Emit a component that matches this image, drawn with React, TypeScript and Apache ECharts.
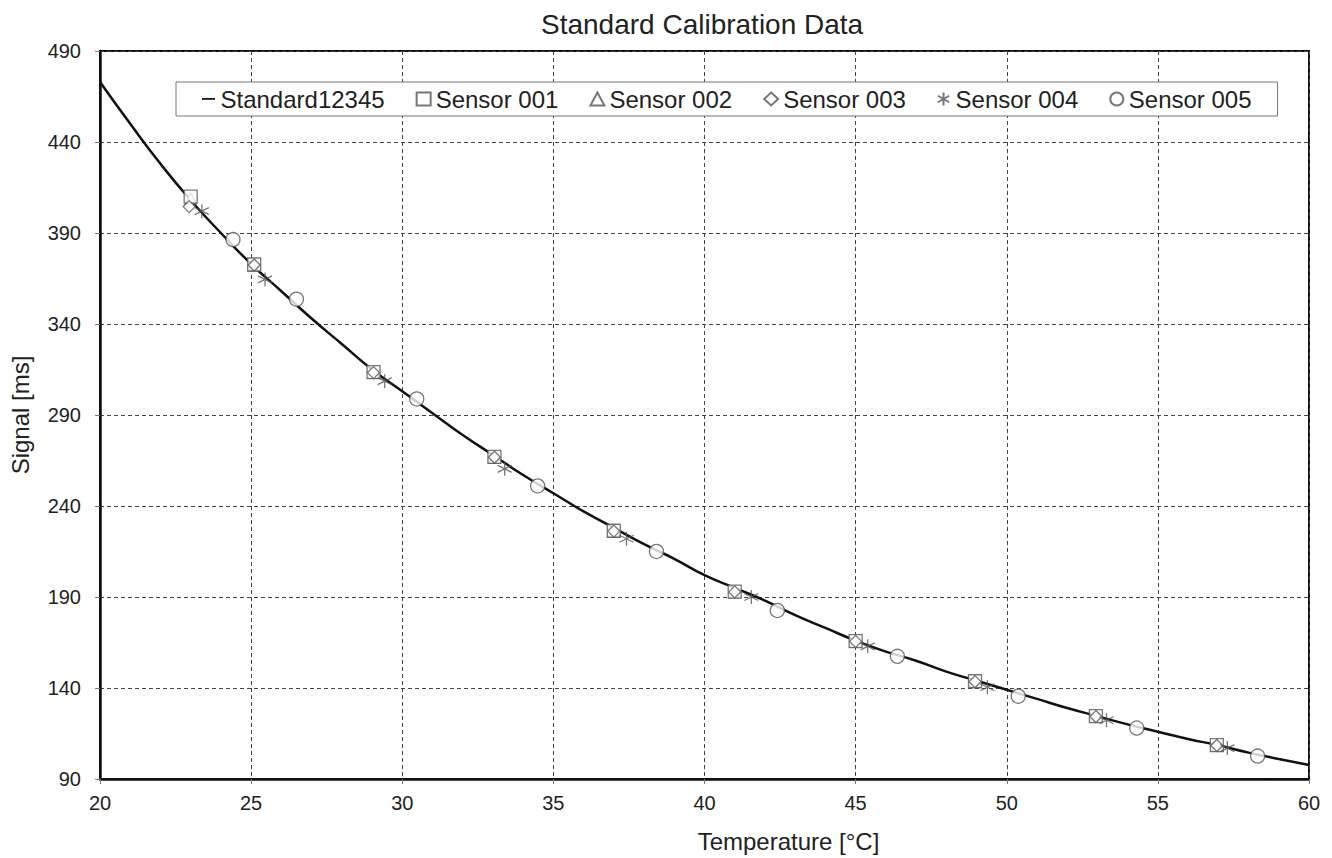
import React, { useEffect, useRef } from "react";
import * as echarts from "echarts";

const title = "Standard Calibration Data";
const xName = "Temperature [°C]";
const yName = "Signal [ms]";
const yTicks = [90, 140, 190, 240, 290, 340, 390, 440, 490];

const standardT = [20, 21, 22, 23, 24, 25, 26, 27, 28, 29, 30, 31, 32, 33, 34, 35, 36, 37, 38, 39, 40, 41, 42, 43, 44, 45, 46, 47, 48, 49, 50, 51, 52, 53, 54, 55, 56, 57, 58, 59, 60];
const standardS = [473, 450, 428, 408, 390, 373, 358, 343, 329, 315, 303, 291, 279, 268, 257, 247, 237, 228, 219, 211, 202, 195, 188, 180, 173, 166, 160, 155, 149, 144, 139, 134, 129, 124.5, 120, 116, 112, 108.5, 104.5, 101, 97.7];

const s001 = [[23.0, 410], [25.1, 372.7], [29.05, 313.6], [33.05, 267], [37.0, 226.4], [41.0, 193], [45.0, 165.8], [48.95, 143.7], [52.95, 124.5], [56.95, 108.6]];
const s002 = [[23.0, 409], [25.1, 372.2], [29.05, 313.2], [33.05, 266.6], [37.0, 226], [41.0, 192.6], [45.0, 165.5], [48.95, 143.4], [52.95, 124.2], [56.95, 108.3]];
const s003 = [[22.95, 404.5], [25.1, 372.4], [29.05, 313.3], [33.05, 266.8], [37.0, 226.2], [41.0, 192.8], [45.0, 165.6], [48.95, 143.5], [52.95, 124.3], [56.95, 108.4]];
const s004 = [[23.37, 402], [25.46, 364.5], [29.42, 308.6], [33.39, 260.4], [37.42, 222], [41.55, 190], [45.4, 162.9], [49.36, 140.4], [53.3, 122.3], [57.3, 107]];
const s005 = [[24.4, 386.4], [26.5, 353.6], [30.48, 298.8], [34.48, 251], [38.41, 215], [42.41, 182.6], [46.38, 157.4], [50.38, 135.5], [54.3, 118], [58.3, 102.6]];

const FONT = "'Liberation Sans', Arial, sans-serif";
const STAR = "path://M10,0 L10,20 M1.34,5 L18.66,15 M1.34,15 L18.66,5";
const DASH_ICON = "path://M0,0 L0.01,0 L0,0.01 Z M0,6 L14,6 L14,7.8 L0,7.8 Z M14,14 L13.99,14 L14,13.99 Z";

export default function App() {
  const ref = useRef<HTMLDivElement>(null);
  useEffect(() => {
    if (!ref.current) return;
    const chart = echarts.init(ref.current, null, { renderer: "svg" });
    const marker = { color: "#fff", borderColor: "#555", borderWidth: 1.3 };
    const scatter = (name: string, data: number[][], symbol: string, size: number, z: number) => ({
      name,
      type: "scatter",
      data,
      symbol,
      symbolSize: size,
      itemStyle: marker,
      z,
    });
    chart.setOption({
      animation: false,
      backgroundColor: "#fff",
      title: {
        text: title,
        left: 536,
        top: 5,
        textStyle: { fontFamily: FONT, fontSize: 28, fontWeight: "normal", color: "#222" },
      },
      legend: {
        left: 176,
        top: 82,
        padding: [5, 26],
        itemGap: 31,
        itemWidth: 14,
        itemHeight: 13,
        borderColor: "#777",
        borderWidth: 1,
        backgroundColor: "#fff",
        textStyle: { fontFamily: FONT, fontSize: 24, color: "#222" },
        data: [
          {
            name: "Standard12345",
            icon: DASH_ICON,
            itemStyle: { color: "#111", borderWidth: 0 },
            lineStyle: { color: "#111", width: 2, opacity: 1, type: "solid" },
          },
          { name: "Sensor 001", icon: "rect" },
          { name: "Sensor 002", icon: "triangle" },
          { name: "Sensor 003", icon: "diamond" },
          { name: "Sensor 004", icon: STAR },
          { name: "Sensor 005", icon: "circle" },
        ],
      },
      grid: {
        left: 100,
        right: 23,
        top: 51,
        bottom: 77,
        show: true,
        borderColor: "#111",
        borderWidth: 2,
        containLabel: false,
      },
      xAxis: {
        type: "value",
        min: 20,
        max: 60,
        interval: 5,
        name: xName,
        nameLocation: "middle",
        nameGap: 50,
        nameTextStyle: { fontFamily: FONT, fontSize: 24, color: "#222", padding: [0, 0, 0, 168] },
        axisLine: { show: true, onZero: false, lineStyle: { color: "#111", width: 2.5 } },
        axisTick: { show: true, length: 5, lineStyle: { color: "#777" } },
        axisLabel: { fontFamily: FONT, fontSize: 20, color: "#222", margin: 14 },
        splitLine: { show: true, lineStyle: { color: "#444", type: [4, 3], width: 1 } },
      },
      yAxis: {
        type: "value",
        min: 90,
        max: 490,
        name: yName,
        nameLocation: "middle",
        nameGap: 68,
        nameTextStyle: { fontFamily: FONT, fontSize: 24, color: "#222" },
        axisLine: { show: true, onZero: false, lineStyle: { color: "#111", width: 2.5 } },
        axisTick: { show: true, length: 5, customValues: yTicks, lineStyle: { color: "#777" } },
        axisLabel: { fontFamily: FONT, fontSize: 20, color: "#222", margin: 19, customValues: yTicks },
        splitLine: { show: true, lineStyle: { color: "#444", type: [4, 3], width: 1 } },
      },
      series: [
        {
          name: "Standard12345",
          type: "line",
          data: standardT.map((t, i) => [t, standardS[i]]),
          smooth: true,
          symbol: "none",
          lineStyle: { color: "#111", width: 2.5 },
          itemStyle: { color: "#111" },
          z: 2,
        },
        scatter("Sensor 002", s002, "triangle", 11, 3),
        scatter("Sensor 001", s001, "rect", 13, 4),
        scatter("Sensor 003", s003, "diamond", 12, 5),
        scatter("Sensor 004", s004, STAR, 14, 6),
        scatter("Sensor 005", s005, "circle", 14, 7),
      ],
    });
    return () => chart.dispose();
  }, []);
  return (
    <div
      ref={ref}
      style={{ position: "fixed", left: 0, top: 0, width: 1332, height: 858, background: "#fff" }}
    />
  );
}
